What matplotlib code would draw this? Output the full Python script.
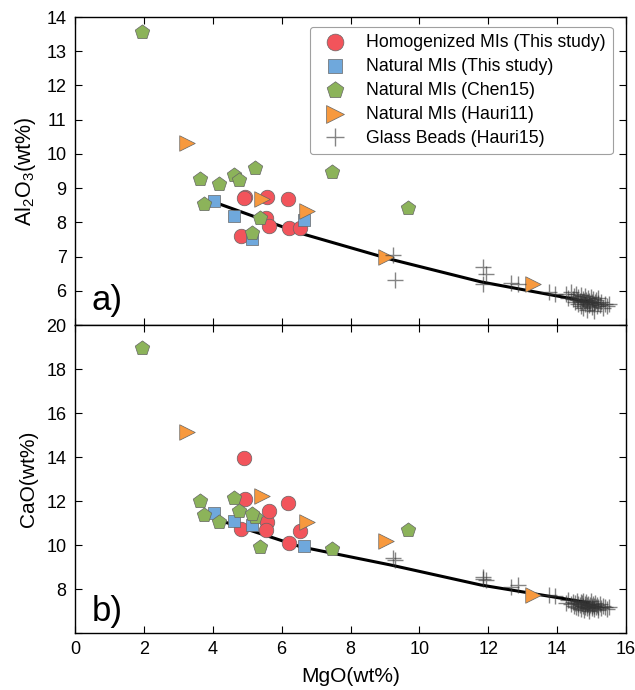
import matplotlib
matplotlib.use("Agg")
import matplotlib.pyplot as plt

plt.rcParams['font.family'] = ['Liberation Sans', 'DejaVu Sans']
plt.rcParams['mathtext.fontset'] = 'custom'
plt.rcParams['mathtext.rm'] = 'Liberation Sans'
plt.rcParams['mathtext.it'] = 'Liberation Sans:italic'
plt.rcParams['mathtext.bf'] = 'Liberation Sans:bold'

# Homogenized melt inclusions (this study)
hom_mgo   = [4.93, 5.58, 6.19, 5.56, 5.63, 6.21, 6.52, 4.83, 4.92]
hom_al2o3 = [8.73, 8.73, 8.67, 8.14, 7.89, 7.82, 7.82, 7.60, 8.70]
hom_cao   = [12.08, 11.06, 11.90, 10.68, 11.56, 10.08, 10.65, 10.71, 13.97]

# Natural melt inclusions (this study)
nat_mgo   = [4.03, 4.63, 5.14, 6.65]
nat_al2o3 = [8.62, 8.19, 7.50, 8.08]
nat_cao   = [11.47, 11.09, 10.91, 9.95]

# Natural melt inclusions (Chen15)
chen_mgo   = [1.94, 3.64, 3.74, 4.19, 4.61, 4.75, 5.24, 5.36, 5.14, 7.47, 9.66]
chen_al2o3 = [13.57, 9.28, 8.53, 9.12, 9.38, 9.23, 9.59, 8.14, 7.69, 9.48, 8.41]
chen_cao   = [18.94, 12.00, 11.36, 11.06, 12.12, 11.56, 11.29, 9.90, 11.41, 9.80, 10.68]

# Natural melt inclusions (Hauri11)
hauri11_mgo   = [3.25, 5.43, 6.74, 9.02, 13.29]
hauri11_al2o3 = [10.33, 8.67, 8.34, 7.00, 6.21]
hauri11_cao   = [15.12, 12.24, 11.06, 10.18, 7.73]

# Glass beads (Hauri15)
gb_mgo = [9.22, 9.28, 11.84, 11.94, 11.84, 12.66, 12.86, 13.77, 13.95,
          14.25, 14.32, 14.40, 14.45, 14.50, 14.52, 14.55, 14.58, 14.60, 14.62,
          14.65, 14.68, 14.70, 14.72, 14.74, 14.76, 14.78, 14.80, 14.82, 14.84,
          14.86, 14.88, 14.90, 14.92, 14.94, 14.96, 14.98, 15.00, 15.02, 15.04,
          15.06, 15.08, 15.10, 15.12, 15.15, 15.18, 15.20, 15.24, 15.28, 15.32,
          15.38, 15.45, 15.52]
gb_al2o3 = [7.04, 6.31, 6.70, 6.50, 6.19, 6.23, 6.21, 5.97, 5.90,
            5.92, 5.80, 5.95, 5.75, 5.85, 5.68, 5.90, 5.72, 5.62, 5.82,
            5.70, 5.55, 5.88, 5.66, 5.76, 5.50, 5.71, 5.84, 5.60, 5.74,
            5.66, 5.45, 5.79, 5.58, 5.70, 5.63, 5.82, 5.52, 5.68, 5.75,
            5.60, 5.42, 5.66, 5.72, 5.55, 5.64, 5.78, 5.58, 5.68, 5.50,
            5.62, 5.55, 5.60]
gb_cao = [9.40, 9.30, 8.56, 8.41, 8.45, 8.10, 8.18, 7.73, 7.70,
          7.35, 7.48, 7.30, 7.42, 7.25, 7.38, 7.20, 7.45, 7.15, 7.33,
          7.28, 7.40, 7.10, 7.36, 7.22, 7.46, 7.05, 7.30, 7.18, 7.40,
          7.26, 7.12, 7.34, 7.20, 7.00, 7.28, 7.44, 7.15, 7.24, 7.32,
          7.08, 7.22, 7.38, 7.16, 7.26, 7.04, 7.20, 7.30, 7.12, 7.22,
          7.18, 7.10, 7.20]

# Olivine-addition trend
trend_mgo   = [4.10, 6.55, 9.17, 11.79, 14.90]
trend_al2o3 = [8.57, 7.68, 6.92, 6.26, 5.68]
trend_cao   = [11.17, 9.92, 9.09, 8.18, 7.38]

fig = plt.figure(figsize=(6.35, 6.9), dpi=100)
left, right = 75 / 635, 626 / 635
top, bottom = 1 - 17 / 690, 1 - 633 / 690
h = (top - bottom) / 2
ax1 = fig.add_axes([left, bottom + h, right - left, h])
ax2 = fig.add_axes([left, bottom, right - left, h], sharex=ax1)

edge = '#666666'
styles = [
    dict(marker='o', color='#f2545b', s=110, label='Homogenized MIs (This study)'),
    dict(marker='s', color='#6fa8dc', s=85, label='Natural MIs (This study)'),
    dict(marker='p', color='#8cb35a', s=120, label='Natural MIs (Chen15)'),
    dict(marker='>', color='#f7993e', s=125, label='Natural MIs (Hauri11)'),
]

for ax, yv in ((ax1, (hom_al2o3, nat_al2o3, chen_al2o3, hauri11_al2o3, gb_al2o3, trend_al2o3)),
               (ax2, (hom_cao, nat_cao, chen_cao, hauri11_cao, gb_cao, trend_cao))):
    ax.plot(trend_mgo, yv[5], color='black', lw=2.2, zorder=2)
    for xs, ys, st in zip((hom_mgo, nat_mgo, chen_mgo, hauri11_mgo), yv[:4], styles):
        ax.scatter(xs, ys, marker=st['marker'], s=st['s'], c=st['color'],
                   edgecolors=edge, linewidths=0.5, label=st['label'], zorder=3)
    ax.plot(gb_mgo, yv[4], linestyle='none', marker='+', markersize=11,
            markeredgewidth=1.0, color='#333333', alpha=0.6,
            label='Glass Beads (Hauri15)', zorder=4)
    ax.tick_params(direction='in', top=True, right=True, length=5, width=0.8,
                   labelsize=13, pad=6)
    for sp in ax.spines.values():
        sp.set_linewidth(1.0)

ax1.set_xlim(0, 16)
ax1.set_xticks(range(0, 17, 2))
ax1.set_ylim(5, 14)
ax1.set_yticks(range(5, 15))
ax1.set_yticklabels([''] + [str(v) for v in range(6, 15)])
ax1.tick_params(labelbottom=False)

ax2.set_ylim(6, 20)
ax2.set_yticks(range(6, 21, 2))
ax2.set_yticklabels([''] + [str(v) for v in range(8, 21, 2)])

ax1.set_ylabel('Al$_2$O$_3$(wt%)', fontsize=15.5, labelpad=6)
ax2.set_ylabel('CaO(wt%)', fontsize=15, labelpad=6)
ax2.set_xlabel('MgO(wt%)', fontsize=15, labelpad=6)
fig.align_ylabels([ax1, ax2])

ax1.text(0.03, 0.05, 'a)', transform=ax1.transAxes, fontsize=25)
ax2.text(0.03, 0.04, 'b)', transform=ax2.transAxes, fontsize=25)

leg = ax1.legend(loc='upper right', bbox_to_anchor=(0.9764, 0.9685),
                 borderaxespad=0.0, fontsize=12.7, frameon=True, fancybox=True,
                 borderpad=0.4, labelspacing=0.4, handletextpad=0.8,
                 scatterpoints=1, numpoints=1, markerscale=1.15)
leg.get_frame().set_edgecolor('#888888')
leg.get_frame().set_linewidth(0.8)

fig.savefig('out.png', dpi=100)
